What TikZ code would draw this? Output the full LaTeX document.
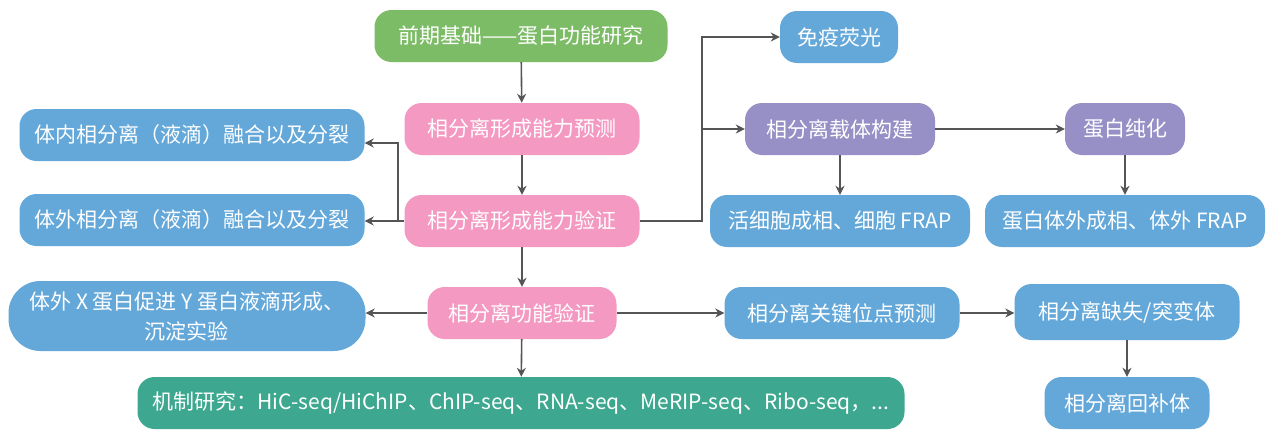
\documentclass[tikz,border=0pt]{standalone}
\usepackage{fontspec}
\setmainfont{Noto Sans CJK SC}
\usetikzlibrary{arrows.meta}
\definecolor{cgreen}{HTML}{7DBC66}
\definecolor{cpink}{HTML}{F49AC2}
\definecolor{cblue}{HTML}{64A8DA}
\definecolor{cpurple}{HTML}{9790C6}
\definecolor{cteal}{HTML}{3DA88F}
\definecolor{cgray}{HTML}{555555}
\begin{document}
\begin{tikzpicture}[x=1pt,y=-1pt,
  box/.style={rounded corners=17pt, text=white, font=\fontsize{21}{30}\selectfont, inner sep=0pt, anchor=center, minimum height=52pt},
  arr/.style={draw=cgray, line width=1.6pt, -{Stealth[length=9pt,width=9pt]}},
  ln/.style={draw=cgray, line width=1.6pt}]
\useasboundingbox (0,0) rectangle (1280,447);
\fill[white] (0,0) rectangle (1280,447);
% main column
\node[box, fill=cgreen, minimum width=293pt] (g) at (521,36) {前期基础——蛋白功能研究};
\node[box, fill=cpink, minimum width=235pt] (p1) at (522,129) {相分离形成能力预测};
\node[box, fill=cpink, minimum width=235pt] (p2) at (522,221) {相分离形成能力验证};
\node[box, fill=cpink, minimum width=189pt] (p3) at (522,313) {相分离功能验证};
\node[box, fill=cteal, minimum width=767pt] (t) at (521,403) {机制研究：HiC-seq/HiChIP、ChIP-seq、RNA-seq、MeRIP-seq、Ribo-seq，...};
% left column
\node[box, fill=cblue, minimum width=345pt] (l1) at (192,135) {体内相分离（液滴）融合以及分裂};
\node[box, fill=cblue, minimum width=345pt] (l2) at (192,220) {体外相分离（液滴）融合以及分裂};
\node[box, fill=cblue, minimum width=357pt, minimum height=70pt, rounded corners=32pt, align=center] (l3) at (187,316) {体外 X 蛋白促进 Y 蛋白液滴形成、\\沉淀实验};
% right part
\node[box, fill=cblue, minimum width=118pt] (imm) at (839,37) {免疫荧光};
\node[box, fill=cpurple, minimum width=190pt] (vec) at (840,129) {相分离载体构建};
\node[box, fill=cpurple, minimum width=120pt] (pur) at (1125,129) {蛋白纯化};
\node[box, fill=cblue, minimum width=260pt] (live) at (840,221) {活细胞成相、细胞 FRAP};
\node[box, fill=cblue, minimum width=280pt] (vitro) at (1125,221) {蛋白体外成相、体外 FRAP};
\node[box, fill=cblue, minimum width=235pt] (key) at (842,313) {相分离关键位点预测};
\node[box, fill=cblue, minimum width=225pt, minimum height=56pt] (mut) at (1127,312) {相分离缺失/突变体};
\node[box, fill=cblue, minimum width=165pt] (res) at (1127,403) {相分离回补体};
% connectors
\draw[arr] (g) -- (p1);
\draw[arr] (p1) -- (p2);
\draw[arr] (p2) -- (p3);
\draw[arr] (p3) -- (t);
\coordinate (jl) at (398,143);
\draw[arr] (p2.west) -- (l2.east |- p2.west);
\draw[arr] (jl |- p2.west) -- (jl) -- (l1.east |- jl);
\coordinate (jr) at (702,37);
\draw[arr] (p2.east) -- (jr |- p2.east) -- (jr) -- (imm.west);
\draw[arr] (jr |- vec.west) -- (vec.west);
\draw[arr] (vec) -- (pur);
\draw[arr] (vec) -- (live);
\draw[arr] (pur) -- (vitro);
\draw[arr] (p3) -- (l3.east |- p3.west);
\draw[arr] (p3) -- (key);
\draw[arr] (key) -- (mut.west |- key.east);
\draw[arr] (mut) -- (res);
\end{tikzpicture}
\end{document}
